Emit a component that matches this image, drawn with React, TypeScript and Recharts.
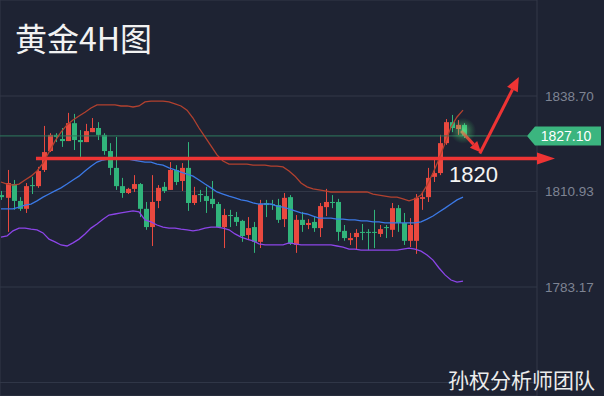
import React from "react";
import {
  Bar,
  CartesianGrid,
  ComposedChart,
  Line,
  ReferenceDot,
  ReferenceLine,
  XAxis,
  YAxis
} from "recharts";

// 4H candles, oldest first
const opens = [
  1809.9, 1809.1, 1813.1, 1808.2, 1805.9, 1812.8, 1812.5, 1817.2, 1822.7, 1827.4,
  1826.2, 1825.6, 1830.8, 1825.9, 1825.3, 1828.2, 1829.4, 1827.4, 1822.7, 1817.8,
  1812.5, 1810.5, 1811.7, 1813.1, 1805.9, 1800.6, 1808.2, 1812.3, 1811.4, 1817.2,
  1814.0, 1817.8, 1807.6, 1810.2, 1809.6, 1808.8, 1807.3, 1800.6, 1804.1, 1803.5,
  1802.4, 1798.3, 1800.6, 1796.3, 1807.6, 1807.3, 1807.0, 1802.9, 1809.3, 1795.4,
  1802.7, 1801.2, 1802.1, 1800.3, 1806.4, 1807.9, 1807.9, 1799.5, 1796.8, 1797.7,
  1799.2, 1799.2, 1799.2, 1798.6, 1800.6, 1799.8, 1806.1, 1801.8, 1796.6, 1796.6,
  1808.8, 1809.3, 1815.2, 1816.3, 1825.0, 1831.1, 1829.1, 1830.3
];
const highs = [
  1811.1, 1817.2, 1814.3, 1809.3, 1813.4, 1815.2, 1818.1, 1830.0, 1827.9, 1827.9,
  1829.4, 1833.8, 1833.5, 1828.8, 1830.6, 1832.3, 1831.1, 1827.9, 1825.0, 1826.8,
  1814.9, 1812.0, 1815.7, 1813.4, 1807.9, 1815.7, 1812.8, 1813.7, 1819.5, 1818.6,
  1819.2, 1825.3, 1812.3, 1811.4, 1812.3, 1814.0, 1807.9, 1805.9, 1805.6, 1805.0,
  1802.7, 1803.5, 1802.1, 1808.5, 1808.5, 1808.5, 1808.8, 1810.5, 1809.9, 1804.1,
  1805.0, 1802.9, 1803.5, 1807.6, 1811.7, 1809.9, 1808.8, 1801.2, 1798.9, 1800.0,
  1801.5, 1800.0, 1805.6, 1801.2, 1801.2, 1807.6, 1807.0, 1804.7, 1803.2, 1810.2,
  1810.5, 1817.8, 1820.1, 1827.4, 1832.0, 1833.2, 1831.7, 1830.8
];
const lows = [
  1808.5, 1799.2, 1805.6, 1805.3, 1804.7, 1810.2, 1812.0, 1816.6, 1822.4, 1825.3,
  1823.9, 1825.6, 1823.0, 1821.0, 1825.3, 1828.2, 1825.9, 1821.6, 1815.7, 1811.4,
  1809.1, 1810.2, 1810.8, 1803.5, 1799.8, 1795.1, 1806.1, 1810.5, 1811.4, 1812.8,
  1811.1, 1805.3, 1807.0, 1807.9, 1804.7, 1806.1, 1800.6, 1794.5, 1800.6, 1800.9,
  1796.3, 1796.8, 1793.1, 1794.5, 1803.5, 1805.6, 1801.8, 1800.6, 1795.4, 1793.1,
  1799.2, 1800.0, 1799.2, 1797.7, 1803.8, 1806.1, 1796.6, 1796.6, 1795.4, 1794.2,
  1796.8, 1793.9, 1794.5, 1797.7, 1797.4, 1797.7, 1799.2, 1795.4, 1794.8, 1792.8,
  1805.6, 1807.9, 1813.7, 1815.7, 1824.5, 1828.2, 1827.4, 1826.5
];
const closes = [
  1809.3, 1813.4, 1808.2, 1805.9, 1812.5, 1812.5, 1816.9, 1822.4, 1827.4, 1826.8,
  1825.6, 1830.8, 1825.9, 1825.3, 1828.5, 1829.4, 1827.4, 1822.7, 1817.8, 1812.5,
  1810.5, 1811.7, 1813.1, 1805.9, 1800.6, 1807.9, 1812.0, 1811.1, 1817.2, 1813.7,
  1817.8, 1807.6, 1809.9, 1809.9, 1808.2, 1807.3, 1800.6, 1804.1, 1803.8, 1802.1,
  1798.0, 1800.3, 1796.3, 1807.3, 1807.0, 1807.0, 1802.7, 1809.1, 1795.7, 1802.7,
  1801.2, 1801.8, 1800.3, 1806.7, 1807.9, 1807.6, 1799.2, 1797.4, 1797.4, 1798.9,
  1798.9, 1798.9, 1798.9, 1800.0, 1800.3, 1806.1, 1801.8, 1796.6, 1801.2, 1809.1,
  1809.3, 1814.9, 1816.3, 1825.0, 1831.1, 1829.4, 1830.3, 1827.1
];

// Bollinger bands
const upperBand = [
  1813.7, 1813.1, 1812.8, 1813.1, 1814.3, 1815.4, 1816.9, 1819.2, 1822.4, 1825.6,
  1828.2, 1830.3, 1831.7, 1832.9, 1834.0, 1835.2, 1836.1, 1836.1, 1836.1, 1836.1,
  1835.8, 1835.8, 1835.5, 1835.8, 1837.0, 1837.2, 1837.2, 1837.2, 1837.0, 1836.4,
  1835.8, 1834.6, 1832.3, 1829.4, 1826.8, 1824.2, 1821.6, 1819.8, 1818.9, 1818.9,
  1818.9, 1818.9, 1818.6, 1818.6, 1818.6, 1818.3, 1818.3, 1818.1, 1816.9, 1815.4,
  1813.4, 1812.3, 1811.7, 1811.4, 1811.1, 1810.8, 1810.8, 1810.8, 1810.8, 1810.8,
  1810.8, 1810.8, 1810.2, 1809.9, 1809.6, 1809.3, 1809.3, 1808.8, 1808.2, 1808.8,
  1809.9, 1812.8, 1816.3, 1820.4, 1825.0, 1829.7, 1832.6, 1834.6
];
const midBand = [
  1805.9, 1805.9, 1805.9, 1806.4, 1807.0, 1807.3, 1808.2, 1809.3, 1810.2, 1811.1,
  1812.0, 1813.1, 1814.3, 1815.4, 1816.9, 1818.3, 1819.5, 1820.1, 1820.4, 1820.4,
  1820.4, 1820.4, 1820.1, 1819.8, 1819.5, 1819.5, 1818.9, 1818.6, 1817.8, 1817.2,
  1816.6, 1816.0, 1815.4, 1814.3, 1813.1, 1812.0, 1810.8, 1810.2, 1809.6, 1809.1,
  1808.5, 1808.2, 1807.6, 1807.3, 1807.3, 1807.3, 1806.7, 1806.4, 1805.9, 1805.3,
  1804.7, 1804.4, 1803.8, 1803.2, 1803.2, 1803.2, 1802.9, 1802.9, 1802.7, 1802.7,
  1802.4, 1802.4, 1802.1, 1802.1, 1801.8, 1801.8, 1801.8, 1801.8, 1801.8, 1801.8,
  1802.1, 1802.9, 1803.8, 1805.0, 1806.1, 1807.3, 1808.5, 1809.3
];
const lowerBand = [
  1797.7, 1798.0, 1799.5, 1800.3, 1800.3, 1800.0, 1799.8, 1798.9, 1797.1, 1796.3,
  1795.4, 1795.1, 1796.0, 1797.1, 1798.6, 1800.3, 1801.5, 1802.9, 1804.1, 1804.4,
  1804.7, 1805.0, 1805.3, 1805.0, 1802.7, 1802.1, 1801.2, 1800.6, 1800.3, 1800.3,
  1800.0, 1799.8, 1799.5, 1799.8, 1800.3, 1800.6, 1800.6, 1800.3, 1799.8, 1798.6,
  1797.7, 1797.1, 1796.6, 1795.7, 1795.4, 1795.4, 1795.4, 1795.4, 1796.0, 1795.7,
  1795.4, 1795.4, 1795.4, 1795.4, 1795.4, 1795.4, 1795.1, 1794.8, 1794.2, 1794.2,
  1793.9, 1793.9, 1793.9, 1793.9, 1793.9, 1793.9, 1793.9, 1794.2, 1794.5, 1794.2,
  1793.6, 1792.5, 1791.0, 1788.7, 1786.7, 1785.2, 1784.6, 1784.9
];

const priceTicks = [1755.4, 1783.17, 1810.93, 1838.7];
const gridCandles = [6.67, 22.67, 38.67, 54.67, 70.67, 86.67];
const lastPrice = 1827.1;
const supportLevel = 1820.5;
const supportLabel = "1820";
// hand-drawn arrows, [candle, price] points
const arrowDown = [{ x: 76.7, y: 1828.5 }, { x: 80, y: 1822.3 }];
const arrowUp = [{ x: 79.8, y: 1822.0 }, { x: 86.3, y: 1844.2 }];

const RED = "#e9493f";
const GREEN = "#31b47b";
const ARROW = "#ee3434";

const data = opens.map((open, i) => ({
  i,
  open,
  close: closes[i],
  high: highs[i],
  low: lows[i],
  range: [lows[i], highs[i]],
  upper: upperBand[i],
  mid: midBand[i],
  lower: lowerBand[i]
}));

function Candle(props: any) {
  const { x, y, width, height, payload } = props;
  if (!payload) return null;
  const { open, close, high, low } = payload;
  const color = close >= open ? RED : GREEN;
  const top = Math.min(y, y + height);
  const h = Math.abs(height);
  const per = h / (high - low);
  const bodyTop = top + (high - Math.max(open, close)) * per;
  const bodyBot = top + (high - Math.min(open, close)) * per;
  const cx = Math.round(x + width / 2) + 0.5;
  return (
    <g>
      <line x1={cx} x2={cx} y1={top} y2={top + h} stroke={color} strokeWidth={1} />
      <rect x={cx - 2.5} y={bodyTop} width={5} height={Math.max(1, bodyBot - bodyTop)} fill={color} />
    </g>
  );
}

function Arrow({ x1, y1, x2, y2, len = 13, half = 5.5, width = 3 }: any) {
  const a = Math.atan2(y2 - y1, x2 - x1);
  const bx = x2 - Math.cos(a) * len;
  const by = y2 - Math.sin(a) * len;
  const nx = -Math.sin(a) * half;
  const ny = Math.cos(a) * half;
  return (
    <g>
      <line x1={x1} y1={y1} x2={bx} y2={by} stroke={ARROW} strokeWidth={width} />
      <polygon points={`${x2},${y2} ${bx + nx},${by + ny} ${bx - nx},${by - ny}`} fill={ARROW} />
    </g>
  );
}

function SupportLine(props: any) {
  const { x1, y1, x2, y2 } = props;
  return (
    <g>
      <Arrow x1={x1} y1={y1} x2={x2} y2={y2} len={18} half={6} width={3.5} />
      <text
        x={x2 - 106}
        y={y1 + 23}
        fill="#f4f4f4"
        fontSize={22}
        fontFamily="'Liberation Sans', Arial, sans-serif"
      >
        {supportLabel}
      </text>
    </g>
  );
}

function PriceTag(props: any) {
  const { x1, y1, x2 } = props;
  const left = Math.min(x1, x2);
  const right = Math.max(x1, x2);
  const tip = right - 10;
  return (
    <g>
      <line x1={left} x2={tip} y1={y1} y2={y1} stroke="#2f7a5e" strokeWidth={1} />
      <polygon
        points={`${tip},${y1} ${right - 2},${y1 - 9.5} ${right + 64},${y1 - 9.5} ${right + 64},${y1 + 9.5} ${right - 2},${y1 + 9.5}`}
        fill="#3bb57f"
      />
      <text
        x={right + 29}
        y={y1 + 5}
        textAnchor="middle"
        fill="#ffffff"
        fontSize={14}
        fontFamily="'Liberation Sans', Arial, sans-serif"
      >
        {lastPrice.toFixed(2)}
      </text>
    </g>
  );
}

function Glow(props: any) {
  const { cx, cy } = props;
  return (
    <g>
      <defs>
        <radialGradient id="glow">
          <stop offset="0%" stopColor="#7dff8a" stopOpacity={0.55} />
          <stop offset="100%" stopColor="#3bd36a" stopOpacity={0} />
        </radialGradient>
      </defs>
      <circle cx={cx} cy={cy} r={13} fill="url(#glow)" />
    </g>
  );
}

export default function App() {
  return (
    <div
      style={{
        position: "absolute",
        left: 0,
        top: 0,
        width: 604,
        height: 396,
        background: "#1e2333",
        overflow: "hidden"
      }}
    >
      <ComposedChart width={604} height={396} data={data} margin={{ top: 0, right: 0, left: 0, bottom: 0 }}>
        <CartesianGrid stroke="#323849" strokeWidth={1} />
        <XAxis
          dataKey="i"
          type="number"
          domain={[-1 / 6, 89.33]}
          ticks={gridCandles}
          allowDataOverflow
          height={0}
          tick={false}
          axisLine={false}
          tickLine={false}
        />
        <YAxis
          orientation="right"
          type="number"
          domain={[1751.49, 1866.61]}
          ticks={priceTicks}
          allowDataOverflow
          width={67}
          axisLine={false}
          tickLine={false}
          tick={{ fill: "#7e8493", fontSize: 13.5, fontFamily: "'Liberation Sans', Arial, sans-serif" }}
          tickFormatter={(v: number) => (v < 1760 ? "" : v.toFixed(2))}
        />
        <ReferenceLine y={lastPrice} ifOverflow="visible" shape={(p: any) => <PriceTag {...p} />} />
        <Line dataKey="upper" stroke="#b2412f" strokeWidth={1.3} dot={false} activeDot={false} isAnimationActive={false} />
        <Line dataKey="mid" stroke="#3b79e6" strokeWidth={1.3} dot={false} activeDot={false} isAnimationActive={false} />
        <Line dataKey="lower" stroke="#8c45e8" strokeWidth={1.3} dot={false} activeDot={false} isAnimationActive={false} />
        <Bar dataKey="range" barSize={5} shape={(p: any) => <Candle {...p} />} activeBar={false} isAnimationActive={false} />
        <ReferenceDot x={77} y={1828.6} ifOverflow="visible" shape={(p: any) => <Glow {...p} />} />
        <ReferenceLine
          segment={[{ x: 5.83, y: supportLevel }, { x: 92.33, y: supportLevel }]}
          ifOverflow="visible"
          shape={(p: any) => <SupportLine {...p} />}
        />
        <ReferenceLine segment={arrowDown} ifOverflow="visible" shape={(p: any) => <Arrow {...p} len={11} half={5} />} />
        <ReferenceLine segment={arrowUp} ifOverflow="visible" shape={(p: any) => <Arrow {...p} len={14} half={6} />} />
      </ComposedChart>
      <div
        style={{
          position: "absolute",
          left: 15,
          top: 21,
          fontSize: 32,
          lineHeight: 1,
          color: "#f2f2f2",
          fontFamily: "'Noto Sans CJK SC', sans-serif",
          whiteSpace: "nowrap"
        }}
      >
        黄金4H图
      </div>
      <div
        style={{
          position: "absolute",
          left: 448,
          top: 369,
          fontSize: 21,
          lineHeight: 1,
          color: "#ececec",
          fontFamily: "'Noto Sans CJK SC', sans-serif",
          whiteSpace: "nowrap"
        }}
      >
        孙权分析师团队
      </div>
    </div>
  );
}
